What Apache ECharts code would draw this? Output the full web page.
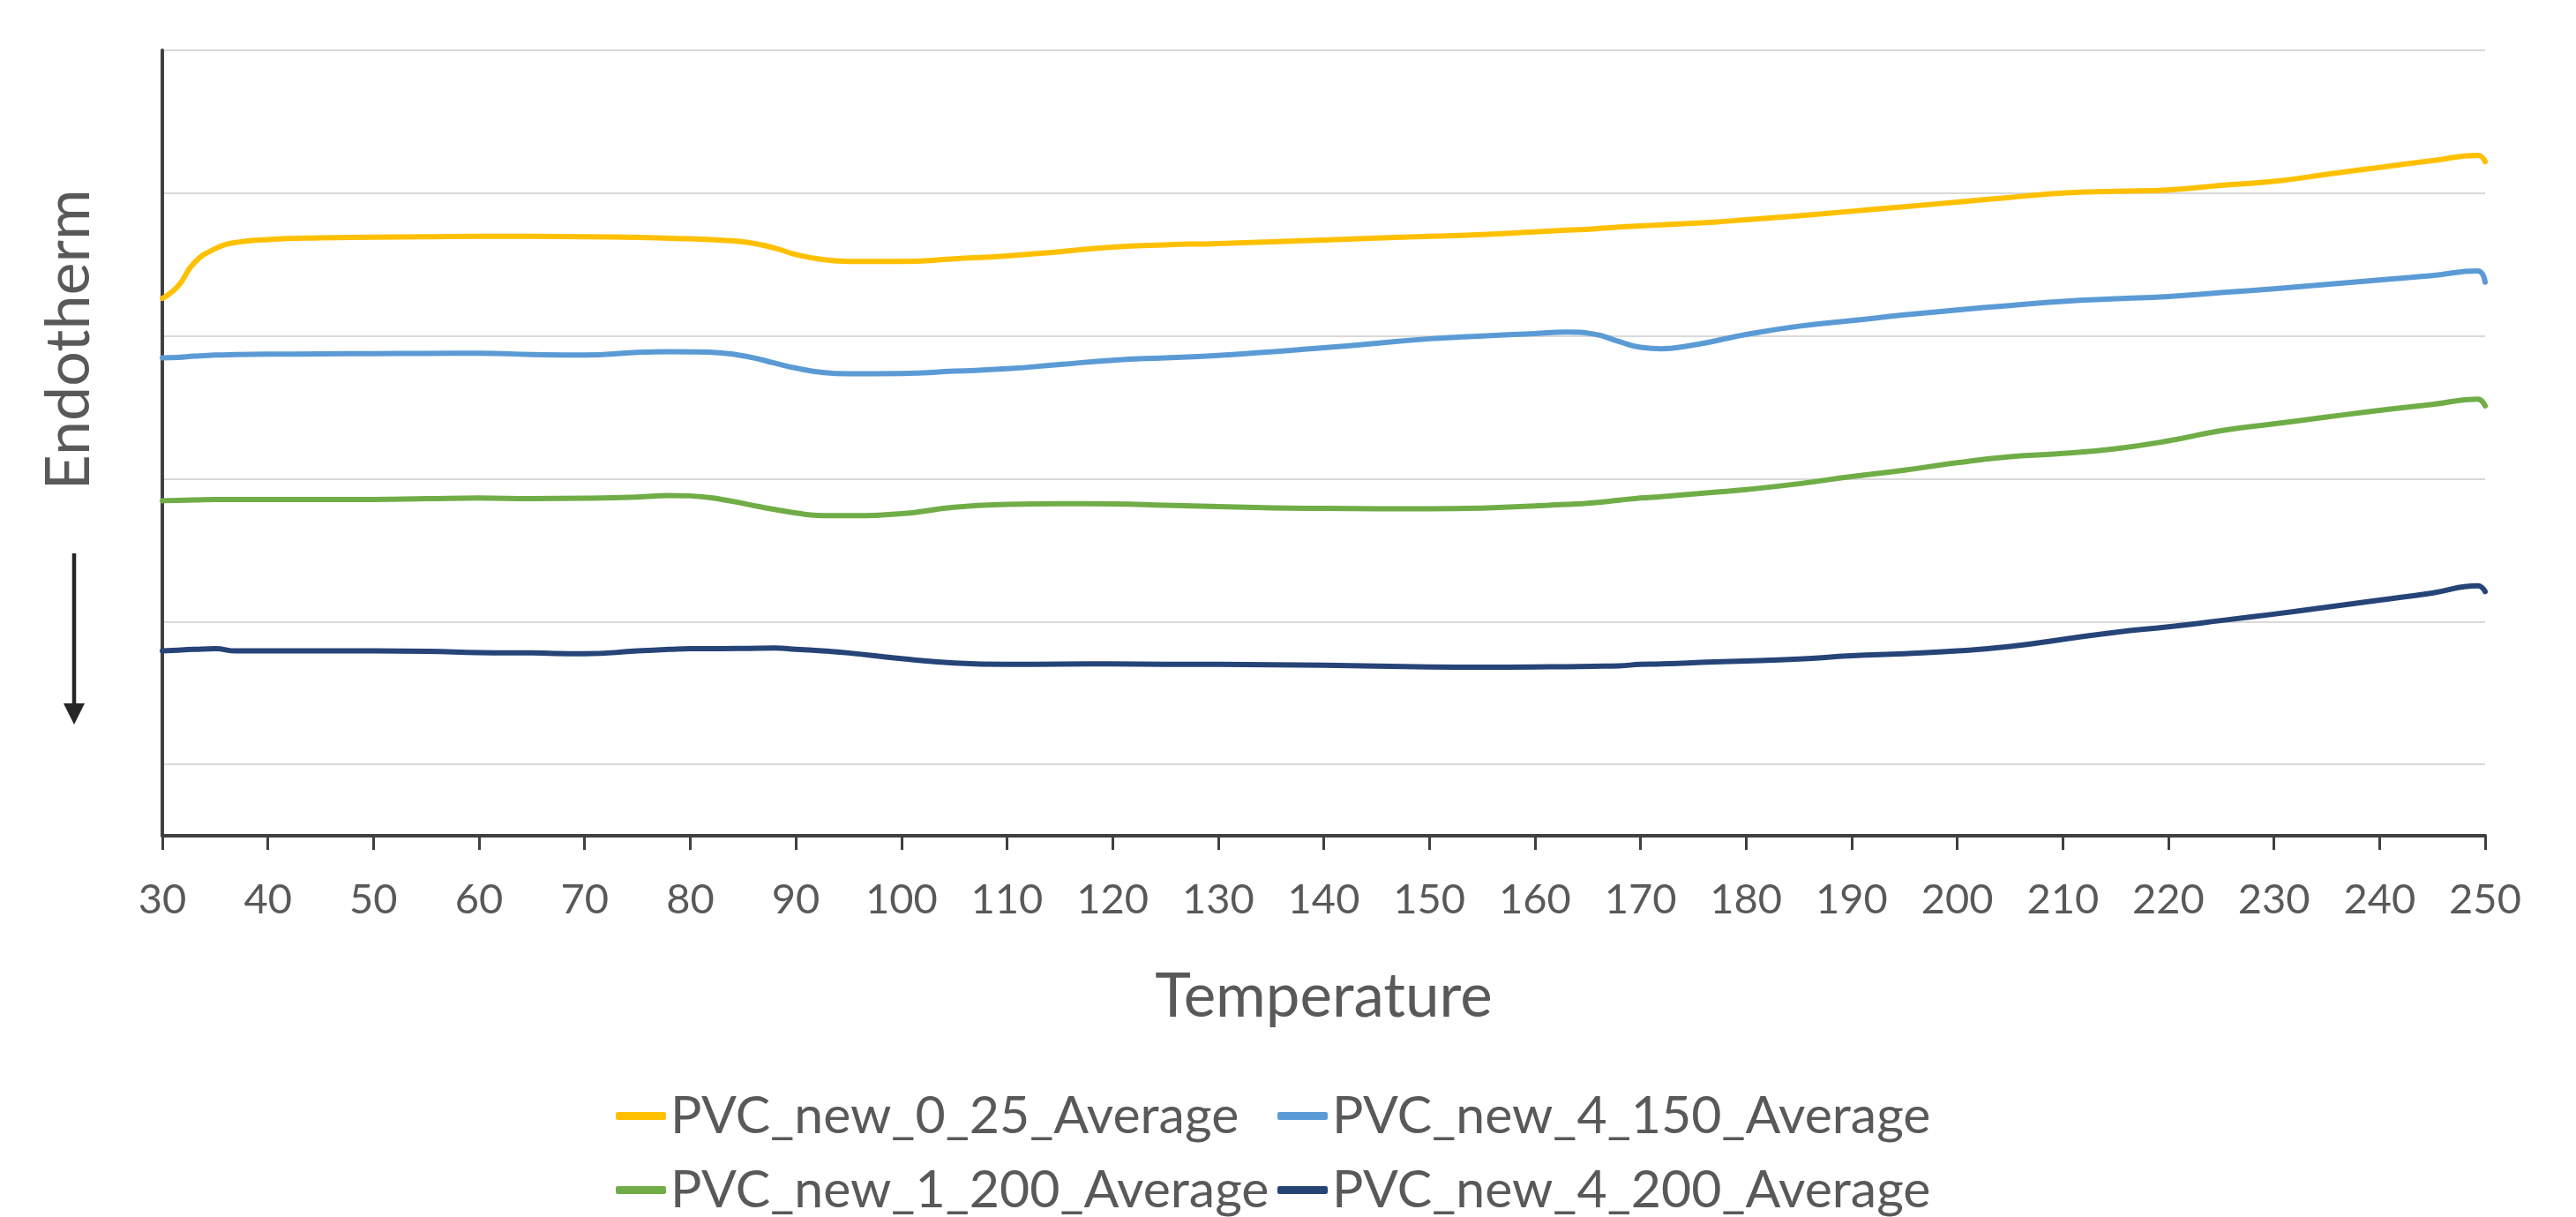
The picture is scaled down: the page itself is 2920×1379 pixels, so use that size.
<!DOCTYPE html>
<html>
<head>
<meta charset="utf-8">
<script src="https://cdn.jsdelivr.net/npm/echarts@6/dist/echarts.min.js"></script>
<style>
html,body{margin:0;padding:0;background:#fff;}
#chart{width:2920px;height:1379px;}
</style>
</head>
<body>
<div id="chart"></div>
<script>
// Temperature sample points (°C)
const temps = [30, 31.5, 33, 35, 37, 40, 45, 50, 55, 60, 65, 70, 75, 78, 80, 83, 85.5, 88, 90, 92.5, 95, 100, 105, 110, 115, 120, 125, 130, 140, 150, 155, 160, 163, 165.5, 168, 170, 172, 174.5, 177, 180, 185, 190, 195, 200, 205, 210, 215, 220, 225, 230, 235, 240, 245, 249.3, 250];

// Heat-flow depth readings (grid units measured downward, endotherm down)
const pvc0_25 = [1.737, 1.65, 1.49, 1.39, 1.345, 1.325, 1.313, 1.309, 1.305, 1.302, 1.303, 1.305, 1.31, 1.316, 1.32, 1.33, 1.346, 1.385, 1.43, 1.465, 1.478, 1.479, 1.46, 1.44, 1.41, 1.378, 1.362, 1.353, 1.328, 1.302, 1.29, 1.271, 1.259, 1.251, 1.238, 1.23, 1.222, 1.213, 1.203, 1.186, 1.158, 1.127, 1.095, 1.063, 1.03, 1.0, 0.987, 0.978, 0.946, 0.918, 0.868, 0.82, 0.773, 0.735, 0.78];
const pvc4_150 = [2.153, 2.15, 2.142, 2.134, 2.131, 2.128, 2.126, 2.124, 2.122, 2.121, 2.13, 2.134, 2.115, 2.111, 2.112, 2.12, 2.146, 2.19, 2.225, 2.255, 2.265, 2.263, 2.247, 2.23, 2.2, 2.17, 2.153, 2.137, 2.083, 2.02, 2.0, 1.983, 1.973, 1.986, 2.04, 2.08, 2.09, 2.07, 2.036, 1.99, 1.932, 1.893, 1.853, 1.818, 1.787, 1.758, 1.74, 1.724, 1.697, 1.67, 1.639, 1.608, 1.577, 1.545, 1.624];
const pvc1_200 = [3.154, 3.152, 3.149, 3.145, 3.145, 3.145, 3.145, 3.145, 3.14, 3.135, 3.14, 3.137, 3.128, 3.117, 3.12, 3.145, 3.18, 3.215, 3.24, 3.258, 3.259, 3.245, 3.2, 3.18, 3.175, 3.176, 3.185, 3.195, 3.208, 3.21, 3.205, 3.19, 3.18, 3.168, 3.15, 3.135, 3.125, 3.11, 3.095, 3.076, 3.035, 2.985, 2.94, 2.888, 2.846, 2.823, 2.79, 2.735, 2.663, 2.616, 2.568, 2.521, 2.48, 2.443, 2.49];
const pvc4_200 = [4.206, 4.2, 4.195, 4.19, 4.206, 4.206, 4.206, 4.206, 4.208, 4.217, 4.22, 4.226, 4.206, 4.195, 4.19, 4.19, 4.188, 4.186, 4.194, 4.206, 4.22, 4.26, 4.29, 4.30, 4.298, 4.297, 4.299, 4.30, 4.306, 4.318, 4.32, 4.318, 4.316, 4.313, 4.31, 4.30, 4.297, 4.29, 4.283, 4.277, 4.262, 4.24, 4.225, 4.206, 4.175, 4.125, 4.075, 4.037, 3.993, 3.948, 3.9, 3.85, 3.8, 3.75, 3.79];

const seriesNames = ['PVC_new_0_25_Average', 'PVC_new_4_150_Average', 'PVC_new_1_200_Average', 'PVC_new_4_200_Average'];
const seriesValues = [pvc0_25, pvc4_150, pvc1_200, pvc4_200];
const colors = ['#FFC000', '#5B9BD5', '#70AD47', '#264478'];

const FONT = 'Lato, "Open Sans", sans-serif';

const chart = echarts.init(document.getElementById('chart'), null, {renderer: 'canvas'});

const series = seriesNames.map((name, i) => ({
  name: name,
  type: 'line',
  data: temps.map((t, j) => [t, seriesValues[i][j]]),
  showSymbol: false,
  symbol: 'none',
  smooth: 0.5,
  lineStyle: {color: colors[i], width: 6, cap: 'round', join: 'round'},
  itemStyle: {color: colors[i]},
  animation: false
}));

chart.setOption({
  backgroundColor: '#ffffff',
  animation: false,
  grid: {left: 184, right: 103, top: 57, bottom: 432, containLabel: false},
  xAxis: {
    type: 'value',
    min: 30, max: 250, interval: 10,
    name: 'Temperature',
    nameLocation: 'middle',
    nameGap: 148,
    nameTextStyle: {fontFamily: FONT, fontSize: 69, color: '#595959'},
    axisLine: {onZero: false, lineStyle: {color: '#404040', width: 4}},
    axisTick: {show: true, length: 16, lineStyle: {color: '#404040', width: 3}},
    axisLabel: {fontFamily: FONT, fontSize: 47, color: '#595959', margin: 49},
    splitLine: {show: false}
  },
  yAxis: {
    type: 'value',
    inverse: true,
    min: 0, max: 5.5, interval: 1,
    axisLine: {show: true, lineStyle: {color: '#404040', width: 4}},
    axisTick: {show: false},
    axisLabel: {show: false},
    splitLine: {show: true, lineStyle: {color: '#D9D9D9', width: 2}}
  },
  legend: {
    data: seriesNames,
    left: 693,
    top: 1220,
    width: 1540,
    orient: 'horizontal',
    itemGap: 5,
    itemWidth: 57,
    itemHeight: 9,
    icon: 'roundRect',
    textStyle: {fontFamily: FONT, fontSize: 59, color: '#595959', width: 683, lineHeight: 79, overflow: 'none'}
  },
  graphic: [
    {
      type: 'text',
      x: 78, y: 385,
      rotation: Math.PI / 2,
      style: {text: 'Endotherm', font: '70px ' + FONT, fill: '#595959', textAlign: 'center', textVerticalAlign: 'middle'}
    },
    {
      type: 'line',
      shape: {x1: 84, y1: 627, x2: 84, y2: 800},
      style: {stroke: '#262626', lineWidth: 4.5}
    },
    {
      type: 'polygon',
      shape: {points: [[72, 797], [96, 797], [84, 821]]},
      style: {fill: '#262626'}
    }
  ],
  series: series
});
</script>
</body>
</html>
